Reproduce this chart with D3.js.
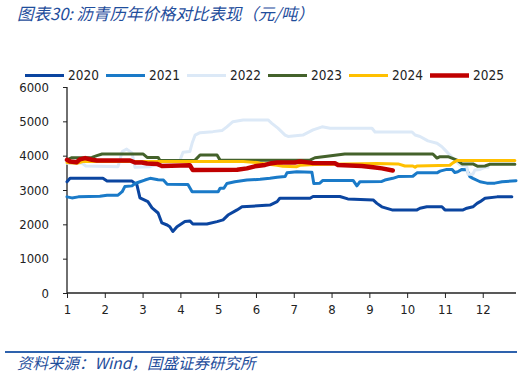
<!DOCTYPE html>
<html>
<head>
<meta charset="utf-8">
<script src="https://cdn.jsdelivr.net/npm/d3@7/dist/d3.min.js"></script>
<style>
  html,body{margin:0;padding:0;background:#fff}
  svg{display:block}
  .tick text{font-family:"DejaVu Sans Condensed","DejaVu Sans",sans-serif;font-size:13px;fill:#222}
  .cap{font-family:"Noto Sans CJK SC",sans-serif;font-style:italic;fill:#1f4e9c}
</style>
</head>
<body>
<svg id="chart" width="532" height="377"></svg>
<script>
// price by year, [month position, yuan/ton]
const years = ['2020','2021','2022','2023','2024','2025']
const monthTicks = [1,2,3,4,5,6,7,8,9,10,11,12]
const priceTicks = [0,1000,2000,3000,4000,5000,6000]

const s2020 = [[1.00,3240],[1.08,3340],[1.95,3340],[2.06,3260],[2.72,3260],[2.85,3150],[2.93,2770],[3.14,2660],[3.25,2480],[3.41,2330],[3.51,2040],[3.65,1980],[3.72,1930],[3.80,1790],[3.91,1930],[4.12,2080],[4.25,2100],[4.33,2010],[4.70,2010],[4.97,2080],[5.13,2130],[5.26,2270],[5.50,2420],[5.63,2510],[5.89,2530],[6.37,2560],[6.56,2660],[6.63,2760],[7.43,2760],[7.51,2810],[8.22,2810],[8.43,2740],[9.10,2710],[9.20,2610],[9.33,2510],[9.60,2420],[10.26,2420],[10.34,2470],[10.52,2510],[10.92,2510],[11.00,2420],[11.48,2420],[11.58,2470],[11.74,2510],[11.85,2610],[11.93,2660],[12.06,2760],[12.38,2800],[12.77,2800]]

const s2021 = [[1.00,2800],[1.13,2770],[1.30,2800],[1.87,2820],[2.06,2850],[2.35,2850],[2.46,2950],[2.53,3100],[2.72,3120],[2.80,3190],[2.93,3240],[3.06,3290],[3.20,3340],[3.41,3300],[3.55,3290],[3.65,3170],[4.20,3160],[4.31,2950],[5.00,2950],[5.05,3050],[5.15,3050],[5.23,3190],[5.44,3240],[5.76,3290],[6.11,3310],[6.37,3340],[6.56,3370],[6.77,3390],[6.82,3500],[7.08,3530],[7.48,3520],[7.53,3190],[7.69,3200],[7.77,3280],[8.57,3280],[8.67,3120],[8.75,3240],[9.33,3250],[9.41,3290],[9.62,3340],[9.76,3390],[10.15,3400],[10.26,3500],[10.79,3500],[10.87,3550],[11.05,3600],[11.19,3600],[11.26,3510],[11.34,3530],[11.45,3600],[11.58,3590],[11.66,3390],[11.74,3340],[11.93,3240],[12.11,3200],[12.32,3200],[12.51,3240],[12.88,3270]]

const s2022 = [[1.00,3780],[1.40,3780],[1.50,3700],[2.35,3680],[2.46,4120],[2.58,4190],[2.72,4080],[2.80,3660],[3.20,3680],[3.50,3820],[3.99,3870],[4.07,4100],[4.25,4120],[4.31,4360],[4.39,4600],[4.52,4670],[4.86,4700],[5.10,4730],[5.23,4840],[5.39,4990],[5.66,5040],[6.32,5040],[6.42,4940],[6.58,4800],[6.77,4600],[6.85,4560],[7.24,4600],[7.51,4750],[7.75,4840],[7.96,4800],[9.07,4800],[9.15,4690],[10.13,4690],[10.21,4600],[10.34,4560],[10.55,4430],[10.79,4360],[10.92,4260],[11.00,4170],[11.13,4020],[11.26,3870],[11.40,3730],[11.58,3680],[11.61,3460],[11.74,3460],[11.79,3580],[11.93,3600],[12.06,3660],[12.14,3660]]

const s2023 = [[1.00,3880],[1.13,3940],[1.66,3950],[1.79,4000],[1.93,4050],[3.01,4050],[3.12,3950],[3.41,3950],[3.46,3860],[4.39,3870],[4.52,4020],[4.97,4020],[5.05,3870],[7.43,3870],[7.56,3940],[7.88,3980],[8.35,4050],[10.68,4050],[10.79,3930],[10.87,3970],[11.08,3970],[11.32,3870],[11.45,3760],[11.74,3760],[11.87,3690],[12.06,3700],[12.19,3750],[12.85,3750]]

const s2024 = [[1.00,3800],[1.26,3780],[1.42,3830],[5.66,3830],[6.03,3800],[6.11,3780],[6.56,3720],[6.71,3690],[7.08,3680],[7.16,3720],[7.56,3740],[9.20,3770],[9.76,3760],[9.94,3700],[10.15,3700],[10.21,3660],[10.26,3700],[11.13,3720],[11.21,3790],[11.32,3860],[12.85,3860]]

const s2025 = [[1.00,3880],[1.08,3830],[1.26,3810],[1.34,3890],[1.48,3930],[1.66,3880],[1.79,3860],[2.67,3860],[2.80,3800],[2.98,3800],[3.12,3770],[3.38,3760],[3.51,3700],[4.25,3720],[4.33,3580],[5.50,3590],[5.76,3630],[5.97,3690],[6.24,3730],[6.37,3770],[6.56,3800],[7.03,3800],[7.16,3830],[7.48,3790],[8.09,3780],[8.17,3730],[8.80,3700],[9.10,3660],[9.33,3630],[9.62,3570]]

const seriesData = [s2020,s2021,s2022,s2023,s2024,s2025]
const colors = ['#0b45a0','#1a7ac8','#dce9f7','#44622b','#ffc000','#c00000']
const widths = [3,3,3,3,3,4.5]

const svg = d3.select('#chart')
const x = d3.scaleLinear().domain([1,12.88]).range([67,516])
const y = d3.scaleLinear().domain([0,6000]).range([293,87])

// title
svg.append('text').attr('class','cap').attr('x',17).attr('y',20)
  .style('font-size','16.5px').text('图表30:  沥青历年价格对比表现（元/吨）')

// legend
const lg = svg.append('g').selectAll('g').data(years).join('g')
  .attr('transform',(d,i)=>`translate(${25+i*81},75.5)`)
lg.append('line').attr('x1',0).attr('x2',39)
  .attr('stroke',(d,i)=>colors[i]).attr('stroke-width',(d,i)=>i==5?4.5:3)
lg.append('text').attr('x',43).attr('dy','0.36em')
  .style('font-family','"DejaVu Sans Condensed","DejaVu Sans",sans-serif')
  .style('font-size','13.5px').attr('fill','#222').text(d=>d)

// axes
const ya = svg.append('g').attr('transform','translate(67,0)')
  .call(d3.axisLeft(y).tickValues(priceTicks).tickSize(4).tickPadding(14).tickFormat(d3.format('d')))
const xa = svg.append('g').attr('transform','translate(0,293)')
  .call(d3.axisBottom(x).tickValues(monthTicks).tickSize(5).tickPadding(7).tickFormat(d3.format('d')))
xa.select('.domain').attr('d','M67,0H516')
ya.select('.domain').attr('d','M0,87V293')
svg.selectAll('.domain').attr('stroke','#222').attr('stroke-width',1.3)
svg.selectAll('.tick line').attr('stroke','#222')

// lines
const line = d3.line().x(d=>x(d[0])).y(d=>y(d[1]))
svg.append('g').selectAll('path').data(seriesData).join('path')
  .attr('d',line).attr('fill','none')
  .attr('stroke',(d,i)=>colors[i]).attr('stroke-width',(d,i)=>widths[i])
  .attr('stroke-linejoin','round').attr('stroke-linecap','round')

// footer
svg.append('line').attr('x1',5).attr('x2',517).attr('y1',352).attr('y2',352)
  .attr('stroke','#2e62ad').attr('stroke-width',2)
svg.append('text').attr('class','cap').attr('x',17).attr('y',369)
  .style('font-size','15.5px').text('资料来源：Wind，国盛证券研究所')
</script>
</body>
</html>
